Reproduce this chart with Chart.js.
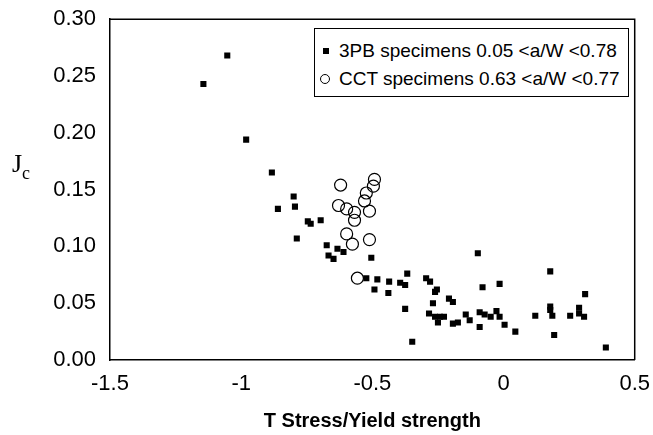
<!DOCTYPE html>
<html>
<head>
<meta charset="utf-8">
<script src="https://cdn.jsdelivr.net/npm/chart.js@4"></script>
<style>
  body { margin: 0; background: #fff; }
  #wrap { position: relative; width: 653px; height: 435px; }
  #legend {
    position: absolute; left: 314px; top: 28px; width: 313px; height: 67px;
    border: 1.5px solid #000; background: #fff;
    font-family: "Liberation Sans", Arial, sans-serif; font-size: 19px; color: #000;
  }
  #legend .row { position: absolute; left: 0; height: 24px; line-height: 24px; white-space: nowrap; }
  #legend .sym { position: absolute; left: 5px; top: 7px; width: 10px; height: 10px; box-sizing: border-box; }
  #legend .txt { position: absolute; left: 24px; }
</style>
</head>
<body>
<div id="wrap">
  <canvas id="myChart" width="653" height="435"></canvas>
  <div id="legend"></div>
</div>
<script>
// 3PB specimens (filled squares)
const pbX = [-1.144, -1.053, -0.981, -0.883, -0.860, -0.800, -0.795, -0.746, -0.735, -0.697,
  -0.788, -0.674, -0.633, -0.610, -0.667, -0.648, -0.504, -0.523, -0.481, -0.492,
  -0.436, -0.439, -0.394, -0.375, -0.367, -0.375, -0.348, -0.295, -0.280, -0.261,
  -0.254, -0.269, -0.208, -0.193, -0.284, -0.261, -0.242, -0.227, -0.250, -0.193,
  -0.174, -0.144, -0.129, -0.098, -0.080, -0.015, -0.091, -0.072, -0.049, -0.027,
  -0.015, 0.004, -0.091, 0.045, 0.121, 0.178, 0.311, 0.178, 0.186, 0.178,
  0.254, 0.288, 0.288, 0.307, 0.193, 0.390];
const pbY = [0.243, 0.268, 0.194, 0.165, 0.133, 0.144, 0.135, 0.122, 0.120, 0.123,
  0.107, 0.101, 0.098, 0.095, 0.092, 0.089, 0.090, 0.072, 0.071, 0.062,
  0.069, 0.059, 0.068, 0.066, 0.076, 0.045, 0.016, 0.072, 0.069, 0.060,
  0.062, 0.050, 0.054, 0.051, 0.041, 0.038, 0.038, 0.038, 0.033, 0.032,
  0.033, 0.040, 0.035, 0.094, 0.064, 0.067, 0.042, 0.040, 0.038, 0.043,
  0.038, 0.031, 0.029, 0.025, 0.039, 0.078, 0.058, 0.044, 0.039, 0.047,
  0.039, 0.046, 0.041, 0.038, 0.022, 0.011];

// CCT specimens (open circles)
const cctX = [-0.621, -0.492, -0.496, -0.523, -0.530, -0.511, -0.629, -0.598, -0.568, -0.568,
  -0.598, -0.576, -0.511, -0.557];
const cctY = [0.154, 0.159, 0.153, 0.147, 0.140, 0.131, 0.136, 0.133, 0.130, 0.123,
  0.111, 0.102, 0.106, 0.072];

const seriesLabels = ['3PB specimens 0.05 <a/W <0.78', 'CCT specimens 0.63 <a/W <0.77'];
const xTicks = [-1.5, -1, -0.5, 0, 0.5];
const yTicks = [0, 0.05, 0.10, 0.15, 0.20, 0.25, 0.30];

const tickFont = { family: '"Liberation Sans", Arial, sans-serif', size: 22 };

// frame on top and right, and the J_c label
const extras = {
  id: 'extras',
  afterDraw(chart) {
    const c = chart.ctx, a = chart.chartArea;
    c.save();
    c.strokeStyle = '#000';
    c.lineWidth = 1.5;
    c.beginPath();
    c.moveTo(a.left, a.top);
    c.lineTo(a.right, a.top);
    c.lineTo(a.right, a.bottom);
    c.stroke();
    c.fillStyle = '#000';
    c.textBaseline = 'alphabetic';
    c.font = '26px "Liberation Serif", "Times New Roman", serif';
    c.fillText('J', 12, 172);
    c.font = '18px "Liberation Serif", "Times New Roman", serif';
    c.fillText('c', 22, 179);
    c.restore();
  }
};

const ctx = document.getElementById('myChart');

const data = {
  datasets: [{
    label: seriesLabels[0],
    data: pbX.map((x, i) => ({ x: x, y: pbY[i] })),
    pointStyle: 'rect',
    pointRadius: 4.3,
    backgroundColor: '#000',
    borderColor: '#000',
    borderWidth: 0
  }, {
    label: seriesLabels[1],
    data: cctX.map((x, i) => ({ x: x, y: cctY[i] })),
    pointStyle: 'circle',
    pointRadius: 6,
    backgroundColor: 'rgba(255,255,255,0)',
    borderColor: '#000',
    borderWidth: 1.2
  }]
};

new Chart(ctx, {
  type: 'scatter',
  data: data,
  plugins: [extras],
  options: {
    responsive: false,
    animation: false,
    layout: { padding: { left: 0, right: 15, top: 16, bottom: 0 } },
    plugins: {
      legend: { display: false },
      tooltip: { enabled: false }
    },
    scales: {
      x: {
        type: 'linear',
        position: 'bottom',
        min: xTicks[0],
        max: xTicks[xTicks.length - 1],
        afterBuildTicks: (s) => { s.ticks = xTicks.map(v => ({ value: v })); },
        afterFit: (s) => { s.height = 75; },
        grid: { display: false },
        border: { color: '#000', width: 1.5 },
        ticks: {
          color: '#000',
          font: tickFont,
          padding: 3,
          maxRotation: 0,
          callback: (v) => String(v)
        },
        title: {
          display: true,
          text: 'T Stress/Yield strength',
          color: '#000',
          font: { family: '"Liberation Sans", Arial, sans-serif', size: 20, weight: 'bold' },
          padding: { top: 0, bottom: 2 }
        }
      },
      y: {
        min: yTicks[0],
        max: yTicks[yTicks.length - 1],
        afterBuildTicks: (s) => { s.ticks = yTicks.map(v => ({ value: v })); },
        afterFit: (s) => { s.width = 110; },
        grid: { display: false },
        border: { color: '#000', width: 1.5 },
        ticks: {
          color: '#000',
          font: tickFont,
          padding: 6,
          callback: (v) => Number(v).toFixed(2)
        }
      }
    }
  }
});

// legend box built from the dataset labels
const legend = document.getElementById('legend');
data.datasets.forEach((ds, i) => {
  const row = document.createElement('div');
  row.className = 'row';
  row.style.top = (10 + i * 28) + 'px';
  const sym = document.createElement('span');
  sym.className = 'sym';
  if (i === 0) {
    sym.style.background = '#000';
    sym.style.width = '6px'; sym.style.height = '6px';
    sym.style.left = '8px'; sym.style.top = '9px';
  } else {
    sym.style.border = '1.2px solid #000';
    sym.style.borderRadius = '50%';
  }
  const txt = document.createElement('span');
  txt.className = 'txt';
  txt.textContent = ds.label;
  row.appendChild(sym);
  row.appendChild(txt);
  legend.appendChild(row);
});
</script>
</body>
</html>
